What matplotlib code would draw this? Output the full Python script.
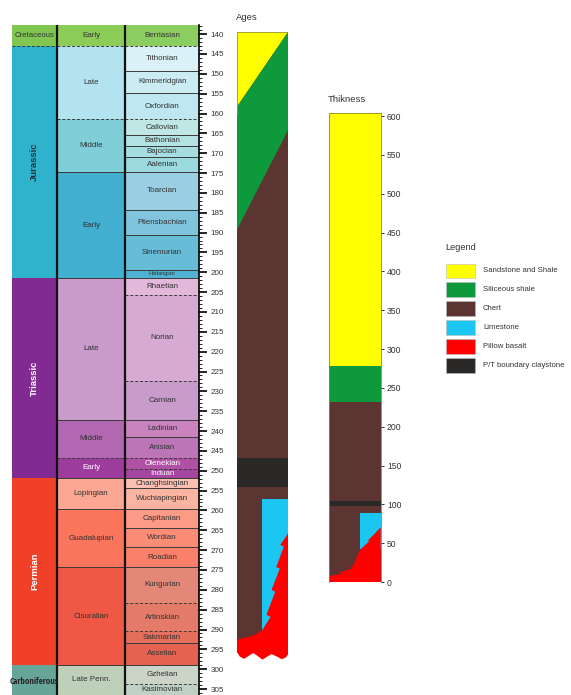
import matplotlib
matplotlib.use("Agg")
import matplotlib.pyplot as plt
from matplotlib.patches import Rectangle, Polygon
from matplotlib.ticker import MultipleLocator
from matplotlib import font_manager

plt.rcParams['font.family'] = ['Liberation Sans', 'DejaVu Sans']

# ---------------- data ----------------
periods = ["Cretaceous", "Jurassic", "Triassic", "Permian", "Carboniferous"]
period_bounds = [137.7, 143.0, 201.4, 251.9, 298.9, 306.5]
period_colors = ["#80C651", "#2FB2CB", "#812B92", "#F04028", "#67A599"]
period_text = ["#333333", "#22323c", "white", "white", "#222222"]

epochs = ["Early", "Late", "Middle", "Early", "Late", "Middle", "Early",
          "Lopingian", "Guadalupian", "Cisuralian", "Late Penn."]
epoch_bounds = [137.7, 143.0, 161.5, 174.8, 201.4, 237.1, 246.7, 251.9,
                259.6, 274.3, 298.9, 306.5]
epoch_colors = ["#8CCD57", "#B3E3EE", "#80CFD8", "#42AED0", "#C99ACA",
                "#B168B1", "#9E3C9E", "#FBA794", "#FB745C", "#EF5845", "#BFD0BA"]
epoch_text = ["#333333"] * 6 + ["white"] + ["#333333"] * 4

stages = ["Berriasian", "Tithonian", "Kimmeridgian", "Oxfordian", "Callovian",
          "Bathonian", "Bajocian", "Aalenian", "Toarcian", "Pliensbachian",
          "Sinemurian", "Hettangian", "Rhaetian", "Norian", "Carnian",
          "Ladinian", "Anisian", "Olenekian", "Induan", "Changhsingian",
          "Wuchiapingian", "Capitanian", "Wordian", "Roadian", "Kungurian",
          "Artinskian", "Sakmarian", "Asselian", "Gzhelian", "Kasimovian"]
stage_bounds = [137.7, 143.0, 149.3, 154.8, 161.5, 165.4, 168.2, 170.9, 174.8,
                184.2, 190.6, 199.4, 201.4, 205.7, 227.3, 237.1, 241.4, 246.7,
                249.6, 251.9, 254.4, 259.6, 264.5, 269.3, 274.3, 283.2, 290.5,
                293.3, 298.9, 303.8, 306.5]
stage_colors = ["#8CCD60", "#D9F1F7", "#CCECF4", "#BFE7F1", "#BFE7E5",
                "#B3E2E3", "#A6DDE0", "#9AD9DD", "#99CEE3", "#80C5DD",
                "#67BCD8", "#4EB3D3", "#E3B9DB", "#D6AAD3", "#C99BCB",
                "#C983BF", "#BC75B7", "#B051A5", "#A4469F", "#FCC0B2",
                "#FCB4A2", "#FB9A85", "#FB8D76", "#FB8069", "#E38776",
                "#E37B68", "#E36F5C", "#E36350", "#CCD4C7", "#BFD0C5"]
white_stages = ["Olenekian", "Induan"]
dashed_stage = [143.0, 161.5, 205.7, 227.3, 246.7, 249.6, 283.2, 290.5, 303.8]
dashed_epoch = [143.0, 161.5, 246.7]

# lithology colours
lith_names = ["Sandstone and Shale", "Siliceous shale", "Chert", "Limestone",
              "Pillow basalt", "P/T boundary claystone"]
lith_colors = ["#FFFF00", "#0E9A3C", "#5C3431", "#1CC6F2", "#FF0000", "#2B2927"]

# Ages column (x fraction of column, age in Ma)
age_top = 139.5
age_base = 296.0
yellow_poly_x = [0.0, 1.0, 0.0]
yellow_poly_y = [139.5, 139.5, 158.4]
green_poly_x = [1.0, 1.0, 0.0, 0.0]
green_poly_y = [139.5, 164.2, 189.4, 158.4]
age_pt_band = [246.8, 254.1]
age_lime_x = [0.50, 1.0]
age_lime_y = [257.1, 290.1]
age_basalt_x = [1.0, 0.85, 0.92, 0.77, 0.84, 0.68, 0.75, 0.58, 0.66, 0.50,
                0.39, 0.26, 0.0, 0.0, 0.06, 0.14, 0.24, 0.32, 0.40, 0.50,
                0.60, 0.68, 0.78, 0.88, 0.96, 1.0]
age_basalt_y = [265.8, 268.7, 269.1, 274.3, 274.6, 280.0, 280.5, 286.3, 286.8,
                290.1, 291.1, 291.8, 292.5, 295.6, 296.8, 297.4, 296.6, 295.9,
                296.6, 297.6, 296.8, 296.2, 296.8, 297.5, 297.0, 296.3]

# Thickness column (m)
thick_top = 604
thick_green = [232, 278]
thick_pt_band = [98, 104.5]
thick_lime_x = [0.60, 1.0]
thick_lime_y = [42, 88.4]
thick_basalt_x = [1.0, 0.80, 0.74, 0.79, 0.60, 0.52, 0.47, 0.40, 0.45, 0.26,
                  0.18, 0.28, 0.0, 0.0, 1.0]
thick_basalt_y = [70.4, 56.5, 53.0, 53.5, 41.5, 30, 21, 18.5, 17.5, 13.5,
                  12, 11, 7.7, 0, 0]

# ---------------- figure ----------------
W, H = 571, 695
fig = plt.figure(figsize=(W / 100, H / 100), dpi=100)


def px_axes(x0, y0, x1, y1):
    return fig.add_axes([x0 / W, 1 - y1 / H, (x1 - x0) / W, (y1 - y0) / H])


# pick a condensed family if one is installed
installed = {f.name for f in font_manager.fontManager.ttflist}
narrow = None
for cand in ["Liberation Sans Narrow", "DejaVu Sans Condensed",
             "Open Sans Condensed", "Roboto Condensed", "Noto Sans Condensed"]:
    if cand in installed:
        narrow = cand
        break

# ---- geologic time scale ----
ax = px_axes(11.7, 25, 199.3, 695)
ax.set_xlim(0, 1)
ax.set_ylim(306.5, 137.7)
cols = [0.0, 0.243, 0.604, 1.0]

# periods
for i, name in enumerate(periods):
    t, b = period_bounds[i], period_bounds[i + 1]
    ax.add_patch(Rectangle((cols[0], t), cols[1] - cols[0], b - t,
                           facecolor=period_colors[i], edgecolor="none", zorder=1))
    xc = (cols[0] + cols[1]) / 2
    if name in ("Jurassic", "Triassic", "Permian"):
        ax.text(xc, (t + b) / 2, name, rotation=90,
                ha="center", va="center", fontsize=6.8, fontweight="bold",
                color=period_text[i], zorder=5)
    elif name == "Carboniferous":
        if narrow:
            ax.text(xc, (t + b) / 2 + 0.5, name, ha="center", va="center",
                    fontsize=6.4, color=period_text[i], fontweight="normal",
                    family=[narrow, "DejaVu Sans"], zorder=5)
        else:
            ax.text(xc, (t + b) / 2 + 0.5, name, ha="center", va="center",
                    fontsize=5.3, color=period_text[i], zorder=5)
    else:
        ax.text(xc, (t + b) / 2, name, ha="center",
                va="center", fontsize=5.6, color=period_text[i], zorder=5)

for i, name in enumerate(epochs):
    t, b = epoch_bounds[i], epoch_bounds[i + 1]
    ax.add_patch(Rectangle((cols[1], t), cols[2] - cols[1], b - t,
                           facecolor=epoch_colors[i], edgecolor="none", zorder=1))
    ax.text((cols[1] + cols[2]) / 2, (t + b) / 2, name, ha="center",
            va="center", fontsize=5.8, color=epoch_text[i], zorder=5)

stage_tc = ["white" if s in white_stages else "#333333" for s in stages]
for i, name in enumerate(stages):
    t, b = stage_bounds[i], stage_bounds[i + 1]
    ax.add_patch(Rectangle((cols[2], t), cols[3] - cols[2], b - t,
                           facecolor=stage_colors[i], edgecolor="none", zorder=1))
    fs = 4.0 if name == "Hettangian" else 5.8
    ax.text((cols[2] + cols[3]) / 2, (t + b) / 2, name, ha="center",
            va="center", fontsize=fs, color=stage_tc[i], zorder=5)

# boundary lines
for yb in stage_bounds[1:-1]:
    ls = (0, (3, 2)) if yb in dashed_stage else "-"
    ax.plot([cols[2], cols[3]], [yb, yb], color="#3a3a3a", lw=0.7, ls=ls, zorder=3)
for yb in epoch_bounds[1:-1]:
    ls = (0, (3, 2)) if yb in dashed_epoch else "-"
    ax.plot([cols[1], cols[2]], [yb, yb], color="#3a3a3a", lw=0.7, ls=ls, zorder=3)
ax.plot([cols[0], cols[1]], [143.0, 143.0], color="#3a3a3a", lw=0.7,
        ls=(0, (3, 2)), zorder=3)
for xc in cols[1:3]:
    ax.plot([xc, xc], [137.7, 306.5], color="#111111", lw=1.6, zorder=4)

for s in ["left", "top", "bottom"]:
    ax.spines[s].set_visible(False)
ax.spines["right"].set_linewidth(1.2)
ax.spines["right"].set_zorder(6)
ax.set_xticks([])
ax.yaxis.tick_right()
ax.set_yticks(list(range(140, 306, 5)))
ax.yaxis.set_minor_locator(MultipleLocator(1))
ax.tick_params(axis="y", which="major", length=6, width=1.2, pad=2,
               labelsize=5.8, labelcolor="#333333")
ax.tick_params(axis="y", which="minor", length=2, width=0.6)

# ---- Ages column ----
ax2 = px_axes(236.7, 25, 288, 695)
ax2.set_xlim(0, 1)
ax2.set_ylim(306.5, 137.7)
ax2.axis("off")
ax2.add_patch(Rectangle((0, age_top), 1, age_base - age_top,
                        facecolor=lith_colors[2], edgecolor="none"))
ax2.add_patch(Polygon(list(zip(yellow_poly_x, yellow_poly_y)),
                      facecolor=lith_colors[0], edgecolor="none"))
ax2.add_patch(Polygon(list(zip(green_poly_x, green_poly_y)),
                      facecolor=lith_colors[1], edgecolor="none"))
ax2.add_patch(Rectangle((0, age_pt_band[0]), 1, age_pt_band[1] - age_pt_band[0],
                        facecolor=lith_colors[5], edgecolor="none"))
ax2.add_patch(Rectangle((age_lime_x[0], age_lime_y[0]),
                        age_lime_x[1] - age_lime_x[0],
                        age_lime_y[1] - age_lime_y[0],
                        facecolor=lith_colors[3], edgecolor="none"))
ax2.add_patch(Polygon(list(zip(age_basalt_x, age_basalt_y)),
                      facecolor=lith_colors[4], edgecolor="none"))
ax2.plot([0, 1, 1], [age_top, age_top, 160], color="#9a9a3a", lw=0.6)
ax2.plot([0, 0], [age_top, 160], color="#9a9a3a", lw=0.6)
fig.text(236 / W, 1 - 18 / H, "Ages", fontsize=6.8, color="#333333",
         ha="left", va="center")

# ---- Thickness column ----
ax3 = px_axes(329.3, 113, 380.7, 582)
ax3.set_xlim(0, 1)
ax3.set_ylim(0, thick_top)
ax3.add_patch(Rectangle((0, 0), 1, thick_top, facecolor=lith_colors[0],
                        edgecolor="none"))
ax3.add_patch(Rectangle((0, 0), 1, thick_green[0], facecolor=lith_colors[2],
                        edgecolor="none"))
ax3.add_patch(Rectangle((0, thick_green[0]), 1, thick_green[1] - thick_green[0],
                        facecolor=lith_colors[1], edgecolor="none"))
ax3.add_patch(Rectangle((0, thick_pt_band[0]), 1,
                        thick_pt_band[1] - thick_pt_band[0],
                        facecolor=lith_colors[5], edgecolor="none"))
ax3.add_patch(Rectangle((thick_lime_x[0], thick_lime_y[0]),
                        thick_lime_x[1] - thick_lime_x[0],
                        thick_lime_y[1] - thick_lime_y[0],
                        facecolor=lith_colors[3], edgecolor="none"))
ax3.add_patch(Polygon(list(zip(thick_basalt_x, thick_basalt_y)),
                      facecolor=lith_colors[4], edgecolor="none"))
for s in ["left", "top", "right"]:
    ax3.spines[s].set_color("#8a8a30")
    ax3.spines[s].set_linewidth(0.6)
ax3.spines["bottom"].set_visible(False)
ax3.set_xticks([])
ax3.yaxis.tick_right()
ax3.set_yticks(list(range(0, 601, 50)))
ax3.tick_params(axis="y", length=2.5, width=0.7, pad=2, labelsize=6.2,
                labelcolor="#333333", color="#333333")
fig.text(328 / W, 1 - 100 / H, "Thikness", fontsize=6.8, color="#333333",
         ha="left", va="center")

# ---- Legend ----
fig.text(445 / W, 1 - 248 / H, "Legend", fontsize=6.6, color="#333333",
         ha="left", va="center")
for i, (nm, c) in enumerate(zip(lith_names, lith_colors)):
    ytop = 263.5 + i * 18.9
    fig.patches.append(Rectangle((446 / W, 1 - (ytop + 14.5) / H), 29 / W,
                                 14.5 / H, facecolor=c, edgecolor="#bbbbbb",
                                 lw=0.4, transform=fig.transFigure,
                                 figure=fig))
    fig.text(483 / W, 1 - (ytop + 7.5) / H, nm, fontsize=5.6,
             color="#333333", ha="left", va="center")

fig.savefig("out.png", dpi=100)
